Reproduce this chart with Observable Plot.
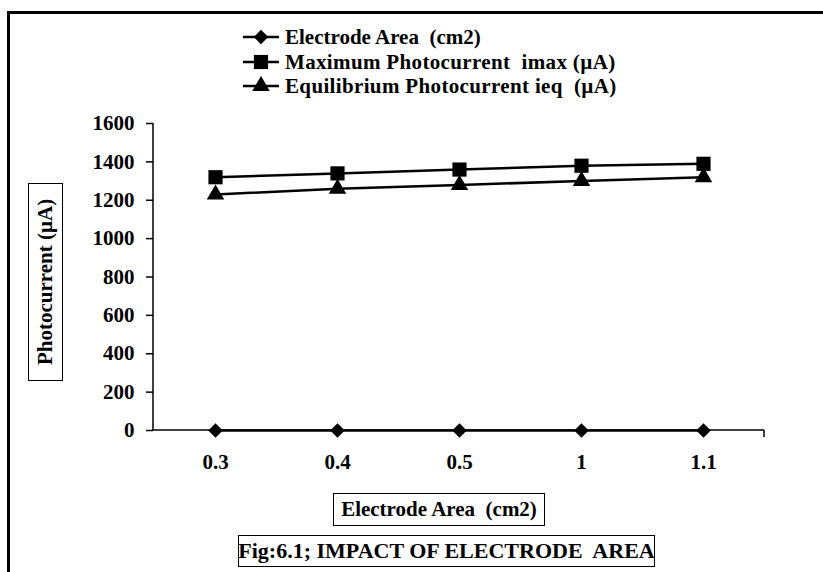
<!DOCTYPE html>
<html>
<head>
<meta charset="utf-8">
<script src="https://cdn.jsdelivr.net/npm/d3@7"></script>
<script src="https://cdn.jsdelivr.net/npm/@observablehq/plot@0.6"></script>
<style>
  body { margin: 0; background: #fff; }
  #wrap { position: relative; width: 823px; height: 572px; overflow: hidden; background: #fff;
          font-family: "Liberation Serif", "Times New Roman", serif; font-weight: bold; color: #000; }
  #frame { position: absolute; left: 7px; top: 11px; width: 900px; height: 700px; border: 3px solid #000; }
  #chart { position: absolute; left: 0; top: 0; }
  .box { position: absolute; border: 1.5px solid #000; background: #fff; font-size: 21px;
         display: flex; align-items: center; justify-content: center; white-space: pre; box-sizing: border-box; }
  #ylab { left: 28px; top: 183px; width: 35px; height: 198px; writing-mode: vertical-rl; transform: rotate(180deg); }
  #xlab { left: 333px; top: 493px; width: 212px; height: 33px; }
  #cap { left: 238px; top: 535px; width: 417px; height: 32px; font-size: 22px; }
  #legend { position: absolute; left: 243px; top: 25px; font-size: 21px; line-height: 24.5px; }
  #legend .row { display: flex; align-items: center; white-space: pre; }
  #legend .row.wide span { letter-spacing: 0.35px; }
  #legend svg { margin-right: 6px; }
</style>
</head>
<body>
<div id="wrap">
  <div id="frame"></div>
  <div id="chart"></div>
  <div id="legend"></div>
  <div class="box" id="ylab">Photocurrent (µA)</div>
  <div class="box" id="xlab">Electrode Area  (cm2)</div>
  <div class="box" id="cap">Fig:6.1; IMPACT OF ELECTRODE  AREA</div>
</div>
<script>
const categories = ["0.3", "0.4", "0.5", "1", "1.1"];
const electrodeArea = [0, 0, 0, 0, 0];
const imax = [1320, 1340, 1360, 1380, 1390];
const ieq = [1230, 1260, 1280, 1300, 1320];
const yTicks = [0, 200, 400, 600, 800, 1000, 1200, 1400, 1600];
const seriesNames = ["Electrode Area  (cm2)", "Maximum Photocurrent  imax (µA)", "Equilibrium Photocurrent ieq  (µA)"];
const symbols = ["diamond2", "square", "triangle"];
const symbolR = [6.5, 8, 6.5];

const series = [electrodeArea, imax, ieq];
const rows = [];
series.forEach((vals, si) => vals.forEach((v, i) => rows.push({s: si, name: seriesNames[si], x: categories[i], y: v})));

const plot = Plot.plot({
  width: 823, height: 572,
  marginLeft: 153, marginRight: 59, marginTop: 123, marginBottom: 142,
  style: {background: "transparent", color: "#000", overflow: "visible"},
  x: {type: "point", domain: categories, padding: 0.5},
  y: {domain: [0, 1600]},
  marks: [
    Plot.axisY({ticks: yTicks, tickSize: 7, tickPadding: 12, tickFormat: d => String(d),
      fontSize: 21, fontWeight: "bold", fontFamily: "Liberation Serif", label: null, strokeWidth: 1.5}),
    Plot.axisX({tickSize: 0, tickPadding: 24, fontSize: 21, fontWeight: "bold", fontFamily: "Liberation Serif", label: null}),
    Plot.lineY(rows, {x: "x", y: "y", z: "s", stroke: "#000", strokeWidth: 2.5}),
    ...symbols.map((sym, si) => Plot.dot(rows.filter(r => r.s === si), {x: "x", y: "y", symbol: () => sym, r: symbolR[si], fill: "#000", stroke: "none"}))
  ]
});
document.getElementById("chart").appendChild(plot);

// axis lines derived from scales
const xs = plot.scale("x"), ys = plot.scale("y");
const svg = d3.select(plot);
const x0 = xs.range[0], x1 = xs.range[1];
const yBase = ys.apply(0), yTop = ys.apply(1600);
svg.append("line").attr("x1", x0).attr("x2", x0).attr("y1", yTop).attr("y2", yBase).attr("stroke", "#000").attr("stroke-width", 1.5);
svg.append("line").attr("x1", x0).attr("x2", x1).attr("y1", yBase).attr("y2", yBase).attr("stroke", "#000").attr("stroke-width", 1.5);
svg.append("line").attr("x1", x1).attr("x2", x1).attr("y1", yBase).attr("y2", yBase + 7).attr("stroke", "#000").attr("stroke-width", 1.5);
svg.selectAll("g[aria-label='line'], g[aria-label='dot']").raise();

// legend
const leg = d3.select("#legend");
const legSym = [d3.symbolDiamond2, d3.symbolSquare, d3.symbolTriangle];
seriesNames.forEach((name, si) => {
  const row = leg.append("div").attr("class", si === 0 ? "row" : "row wide");
  const s = row.append("svg").attr("width", 36).attr("height", 20);
  s.append("line").attr("x1", 0).attr("x2", 36).attr("y1", 10).attr("y2", 10).attr("stroke", "#000").attr("stroke-width", 2.5);
  s.append("path").attr("transform", "translate(18,10)")
    .attr("d", d3.symbol(legSym[si], Math.PI * symbolR[si] * symbolR[si])());
  row.append("span").text(name);
});
</script>
</body>
</html>
